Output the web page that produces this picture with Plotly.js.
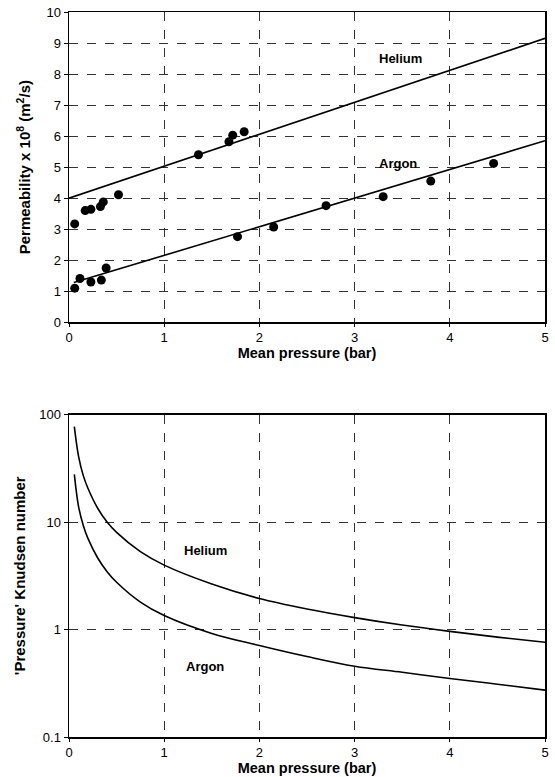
<!DOCTYPE html>
<html>
<head>
<meta charset="utf-8">
<script src="https://cdn.plot.ly/plotly-3.0.1.min.js"></script>
<style>html,body{margin:0;padding:0;background:#fff;}#chart{width:555px;height:777px;}</style>
</head>
<body>
<div id="chart"></div>
<script>
// Top panel: measured permeability
const heliumP = [0.06, 0.17, 0.23, 0.33, 0.36, 0.52, 1.36, 1.68, 1.72, 1.84];
const heliumK = [3.17, 3.60, 3.64, 3.73, 3.88, 4.11, 5.40, 5.82, 6.03, 6.14];
const argonP = [0.06, 0.115, 0.23, 0.34, 0.39, 1.77, 2.15, 2.70, 3.30, 3.80, 4.46];
const argonK = [1.10, 1.41, 1.30, 1.36, 1.75, 2.76, 3.07, 3.76, 4.05, 4.55, 5.12];
// Fitted lines (end points)
const heliumFitP = [0, 5];
const heliumFitK = [4.0, 9.15];
const argonFitP = [0.05, 5];
const argonFitK = [1.28, 5.85];
// Bottom panel: 'Pressure' Knudsen number
const pressure = [0.056, 0.1, 0.15, 0.2, 0.3, 0.4, 0.5, 0.75, 1, 1.5, 2, 2.5, 3, 3.5, 4, 4.5, 5];
const heliumKn = [77, 41, 27, 20.5, 13.5, 10, 8, 5.3, 3.97, 2.65, 1.94, 1.55, 1.29, 1.1, 0.96, 0.85, 0.76];
const argonKn = [27.7, 14, 9.3, 7, 4.65, 3.45, 2.75, 1.8, 1.35, 0.92, 0.71, 0.56, 0.455, 0.4, 0.35, 0.31, 0.273];
const xTicks = [0, 1, 2, 3, 4, 5];
const yTicksTop = [0, 1, 2, 3, 4, 5, 6, 7, 8, 9, 10];
const yTicksBottom = [0.1, 1, 10, 100];
const yTickTextBottom = ['0.1', '1', '10', '100'];

const lineStyle = {color: '#000', width: 1.6};
const markerStyle = {color: '#000', size: 9};

const traces = [
  {x: heliumFitP, y: heliumFitK, mode: 'lines', line: lineStyle, xaxis: 'x', yaxis: 'y', hoverinfo: 'skip'},
  {x: argonFitP, y: argonFitK, mode: 'lines', line: lineStyle, xaxis: 'x', yaxis: 'y', hoverinfo: 'skip'},
  {x: heliumP, y: heliumK, mode: 'markers', marker: markerStyle, xaxis: 'x', yaxis: 'y'},
  {x: argonP, y: argonK, mode: 'markers', marker: markerStyle, xaxis: 'x', yaxis: 'y'},
  {x: pressure, y: heliumKn, mode: 'lines', line: Object.assign({shape: 'spline'}, lineStyle), xaxis: 'x2', yaxis: 'y2'},
  {x: pressure, y: argonKn, mode: 'lines', line: Object.assign({shape: 'spline'}, lineStyle), xaxis: 'x2', yaxis: 'y2'}
];

const FAMILY = 'Liberation Sans, Arial, sans-serif';
const font = {family: FAMILY, color: '#000', size: 13};
const titleFont = {family: FAMILY, color: '#000', size: 14.5, weight: 'bold'};
const annFont = {family: FAMILY, color: '#000', size: 13, weight: 'bold'};

function xAxis(anchor) {
  return {
    anchor: anchor, domain: [0, 1], range: [0, 5], tickvals: xTicks,
    showline: true, mirror: true, linecolor: '#000', linewidth: 1.5,
    ticks: 'outside', ticklen: 3, tickcolor: '#000', tickfont: font,
    showgrid: true, gridcolor: '#333', griddash: 'dash', gridwidth: 1,
    zeroline: false,
    title: {text: 'Mean pressure (bar)', font: titleFont, standoff: 3}
  };
}

const layout = {
  width: 555, height: 777,
  margin: {l: 69, r: 10, t: 12, b: 40},
  paper_bgcolor: '#fff', plot_bgcolor: '#fff',
  showlegend: false,
  font: font,
  xaxis: xAxis('y'),
  xaxis2: xAxis('y2'),
  yaxis: {
    anchor: 'x', domain: [0.5720, 1], range: [0, 10], tickvals: yTicksTop,
    showline: true, mirror: true, linecolor: '#000', linewidth: 1.5,
    ticks: 'outside', ticklen: 4, tickcolor: '#000', tickfont: font,
    showgrid: true, gridcolor: '#333', griddash: 'dash', gridwidth: 1,
    zeroline: false,
    title: {text: 'Permeability x 10<sup>8</sup> (m<sup>2</sup>/s)', font: {family: FAMILY, color: '#000', size: 15, weight: 'bold'}, standoff: 12}
  },
  yaxis2: {
    anchor: 'x2', domain: [0, 0.4448], type: 'log', range: [-1, 2],
    tickvals: yTicksBottom, ticktext: yTickTextBottom,
    showline: true, mirror: true, linecolor: '#000', linewidth: 1.5,
    ticks: 'outside', ticklen: 4, tickcolor: '#000', tickfont: font,
    showgrid: true, gridcolor: '#333', griddash: 'dash', gridwidth: 1,
    zeroline: false,
    title: {text: "'Pressure' Knudsen number", font: {family: FAMILY, color: '#000', size: 15, weight: 'bold'}, standoff: 10}
  },
  annotations: [
    {x: 3.48, y: 8.5, xref: 'x', yref: 'y', text: 'Helium', showarrow: false, font: annFont},
    {x: 3.46, y: 5.12, xref: 'x', yref: 'y', text: 'Argon', showarrow: false, font: annFont},
    {x: 1.43, y: Math.log10(5.43), xref: 'x2', yref: 'y2', text: 'Helium', showarrow: false, font: annFont},
    {x: 1.43, y: Math.log10(0.457), xref: 'x2', yref: 'y2', text: 'Argon', showarrow: false, font: annFont}
  ]
};

Plotly.newPlot('chart', traces, layout, {staticPlot: true, displayModeBar: false});
</script>
</body>
</html>
